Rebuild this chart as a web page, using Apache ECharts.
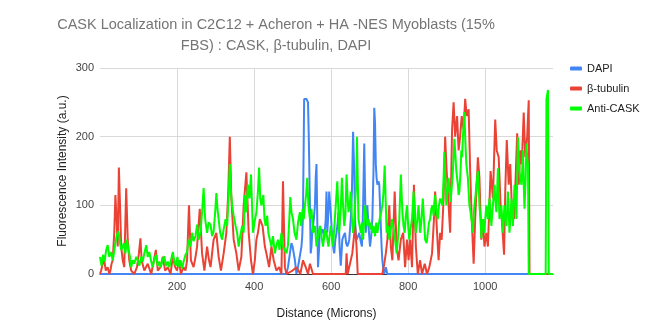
<!DOCTYPE html>
<html>
<head>
<meta charset="utf-8">
<script src="https://cdn.jsdelivr.net/npm/echarts@6/dist/echarts.min.js"></script>
<style>html,body{margin:0;padding:0;background:#fff;}#c{width:648px;height:326px;}</style>
</head>
<body>
<div id="c"></div>
<script>
var seriesNames = ['DAPI', 'β-tubulin', 'Anti-CASK'];
var xTicks = [200, 400, 600, 800, 1000];
var yTicks = [0, 100, 200, 300];

var dapiX = [0,484,488,493,497,500,503,506,510,514,517,520,523,525,527,529,530,533,536,538,540,542,545,547,549,551,555,558,560,562,564,566,569,571,575,579,582,586,588,590,593,595,599,602,605,608,611,614,617,619,622,625,627,629,632,636,639,642,645,647,651,654,657,660,662,664,666,670,673,676,680,683,686,688,690,692,694,697,701,704,707,710,712,714,716,718,720,723,725,727,729,731,733,736,738,742,746,1176];
var dapiY = [0,0,10,30,45,40,30,20,0,10,20,30,40,55,90,200,255,257,255,253,250,200,100,30,40,60,80,100,140,160,80,10,40,70,60,65,50,80,120,60,90,120,90,60,40,30,50,60,75,90,40,12,30,50,55,60,45,40,45,50,80,120,207,150,80,60,50,55,60,50,40,100,190,120,60,80,100,70,40,55,80,150,242,220,160,140,130,135,130,100,70,40,20,5,0,10,0,0];

var tubX = [0,3,7,11,15,20,24,27,30,33,37,40,43,46,49,52,55,59,63,68,72,76,81,89,96,101,105,108,115,124,133,140,145,150,157,163,169,176,183,189,195,200,205,210,217,222,226,231,236,243,248,252,259,265,271,278,283,287,291,295,302,308,314,321,328,333,337,341,347,354,360,367,373,380,386,392,397,402,406,410,415,422,428,432,439,445,451,458,465,471,475,480,484,500,510,520,527,534,540,545,553,560,638,640,643,648,655,662,666,669,733,738,742,746,751,755,759,765,770,775,781,787,792,797,801,805,810,815,820,825,831,836,843,849,855,862,867,870,875,879,883,887,892,896,900,905,909,914,918,922,927,931,935,939,944,948,952,957,961,965,970,974,978,981,985,990,994,998,1003,1007,1014,1020,1026,1030,1035,1040,1043,1049,1052,1056,1061,1065,1069,1075,1079,1083,1087,1091,1095,1100,1104,1109,1113,1115,1176];
var tubY = [0,5,15,20,5,10,0,5,15,20,60,115,80,40,155,100,40,20,10,125,50,20,5,0,10,30,52,20,5,15,0,20,35,5,10,25,5,10,0,25,10,5,20,0,10,5,20,100,20,10,25,40,95,30,5,40,20,10,30,50,60,25,5,30,60,120,200,110,50,30,5,25,100,148,60,20,0,20,50,60,80,70,40,30,10,40,20,5,10,0,135,10,0,5,10,0,20,10,0,15,0,0,0,30,0,0,30,70,40,0,0,15,30,50,100,40,20,120,40,20,50,60,10,50,20,50,10,130,40,0,20,0,15,0,10,30,80,120,60,20,60,50,110,200,150,100,60,210,250,200,230,180,200,230,210,255,230,240,150,80,15,80,130,170,140,50,80,40,60,40,150,110,225,180,170,100,80,28,120,195,130,160,100,80,140,205,130,180,160,235,170,200,253,0,0];

var caskX = [0,4,8,12,16,20,24,29,33,36,40,43,48,52,55,59,62,66,70,74,78,81,85,89,94,98,102,107,111,115,120,124,128,133,137,141,146,150,154,158,163,167,171,176,180,185,189,193,197,201,205,209,213,217,222,226,230,235,239,243,248,252,256,261,265,269,273,278,282,287,291,295,299,302,305,308,312,317,321,326,330,332,335,337,340,343,347,352,356,360,364,369,373,376,380,384,388,392,397,401,406,410,413,416,419,424,427,430,434,437,441,445,449,454,458,462,466,471,475,480,484,488,491,494,497,501,505,510,514,519,522,526,529,532,535,538,541,545,549,553,558,562,566,571,575,579,584,588,593,596,599,603,605,609,612,616,619,621,625,628,631,634,637,640,643,645,648,651,654,657,660,662,665,667,669,671,674,677,680,683,686,688,691,694,697,701,704,707,710,714,717,720,723,726,730,733,736,739,742,744,748,751,755,758,761,764,767,770,774,777,781,785,788,791,794,797,800,803,806,810,814,817,820,823,827,829,831,834,838,841,844,848,851,854,857,860,863,866,870,873,877,880,883,886,889,892,894,897,899,902,905,908,910,913,915,918,920,923,925,927,929,931,933,936,938,940,942,944,946,948,951,953,955,957,959,962,964,966,968,970,972,975,977,979,981,983,985,988,990,992,994,996,998,1000,1003,1005,1007,1009,1011,1014,1016,1018,1020,1022,1024,1026,1029,1031,1033,1035,1037,1040,1042,1044,1046,1048,1050,1052,1055,1057,1059,1061,1063,1066,1068,1070,1072,1074,1076,1079,1081,1083,1085,1087,1089,1091,1094,1096,1098,1100,1102,1105,1107,1109,1111,1113,1157,1159,1163,1165,1176];
var caskY = [25,12,28,18,35,42,25,32,20,30,45,55,62,45,35,40,45,30,50,35,25,10,20,15,25,20,12,25,18,30,42,25,32,18,10,22,28,12,18,10,22,26,12,18,10,22,32,18,12,25,10,20,8,18,28,32,50,40,60,48,55,72,50,62,90,125,80,60,75,72,55,62,90,118,95,80,60,50,65,80,70,92,130,160,120,100,85,70,60,40,55,70,60,115,90,130,110,145,60,75,90,120,155,110,100,115,80,70,85,60,50,40,55,30,42,50,35,60,40,40,30,42,75,112,90,80,60,50,75,90,70,95,80,100,115,140,100,80,95,60,70,40,55,70,55,40,65,60,40,55,70,50,40,75,100,135,90,60,95,140,100,70,85,145,110,90,100,120,80,60,75,100,130,200,140,80,70,60,75,50,80,100,85,70,80,65,75,60,70,55,75,60,70,80,90,100,120,158,100,60,70,50,65,80,70,60,45,30,55,80,145,90,70,60,85,100,70,50,65,80,120,85,60,75,100,80,60,75,110,80,50,45,60,75,80,95,100,85,115,95,80,100,110,105,100,140,178,130,100,120,140,120,105,125,140,170,197,170,150,140,130,115,120,150,180,170,200,215,236,200,160,150,140,120,100,90,80,75,60,85,100,115,130,140,150,130,100,80,52,70,80,70,60,80,100,90,80,95,110,90,70,85,100,115,130,110,90,120,154,120,80,90,100,80,60,80,100,85,70,95,120,90,60,85,110,90,70,100,130,105,80,140,199,170,150,140,130,150,180,130,95,140,190,170,160,0,0,255,268,0,0];

function pairs(xs, ys) { return xs.map(function (x, i) { return [x, ys[i]]; }); }

var chart = echarts.init(document.getElementById('c'), null, {renderer: 'canvas'});
var font = 'Liberation Sans, Arial, sans-serif';
chart.setOption({
  animation: false,
  color: ['#4285F4', '#EA4335', '#00FF00'],
  title: {
    text: 'CASK Localization in C2C12 + Acheron + HA -NES Myoblasts (15%\nFBS) : CASK, β-tubulin, DAPI',
    left: 271, top: 9, textAlign: 'center',
    textStyle: {fontFamily: font, fontSize: 14.5, fontWeight: 'normal', color: '#757575', lineHeight: 21}
  },
  legend: {
    orient: 'vertical', left: 565, top: 58, itemGap: 9,
    icon: 'roundRect', itemWidth: 12, itemHeight: 4,
    textStyle: {fontFamily: font, fontSize: 11, color: '#222'},
    data: seriesNames
  },
  grid: {left: 100, right: 95, top: 68, bottom: 52, containLabel: false},
  xAxis: {
    type: 'value', min: 0, max: 1176, interval: 200,
    name: 'Distance (Microns)', nameLocation: 'middle', nameGap: 34,
    nameTextStyle: {fontFamily: font, fontSize: 12, color: '#222'},
    axisLine: {show: true, lineStyle: {color: '#333'}},
    axisTick: {show: false},
    axisLabel: {fontFamily: font, fontSize: 11, color: '#444', margin: 7, showMinLabel: false, showMaxLabel: false,
      formatter: function (v) { return xTicks.indexOf(v) >= 0 ? String(v) : ''; }},
    splitLine: {show: true, showMinLine: false, showMaxLine: false, lineStyle: {color: '#d9d9d9'}}
  },
  yAxis: {
    type: 'value', min: 0, max: 300, interval: 100,
    name: 'Fluorescence Intensity (a.u.)', nameLocation: 'middle', nameGap: 31, nameMoveOverlap: false,
    nameTextStyle: {fontFamily: font, fontSize: 12, color: '#222'},
    axisLine: {show: false}, axisTick: {show: false},
    axisLabel: {fontFamily: font, fontSize: 11, color: '#444', margin: 6,
      formatter: function (v) { return yTicks.indexOf(v) >= 0 ? String(v) : ''; }},
    splitLine: {show: true, lineStyle: {color: '#d9d9d9'}}
  },
  series: [
    {name: seriesNames[0], type: 'line', data: pairs(dapiX, dapiY), showSymbol: false, lineStyle: {width: 2}, z: 2},
    {name: seriesNames[1], type: 'line', data: pairs(tubX, tubY), showSymbol: false, lineStyle: {width: 2}, z: 3},
    {name: seriesNames[2], type: 'line', data: pairs(caskX, caskY), showSymbol: false, lineStyle: {width: 2}, z: 4}
  ]
});
</script>
</body>
</html>
